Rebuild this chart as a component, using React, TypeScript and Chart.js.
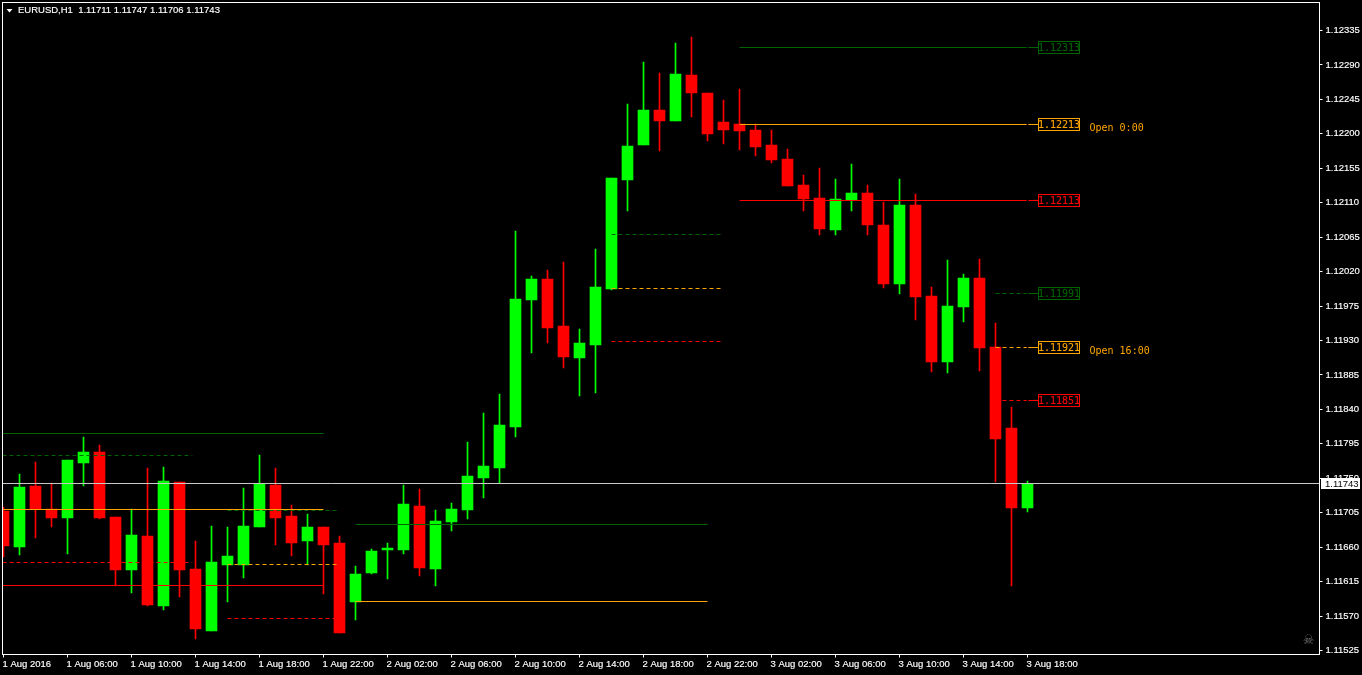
import React, { useEffect, useRef } from "react";
import Chart from "chart.js/auto";

const open = [1.11707,1.11660,1.11740,1.11710,1.11698,1.11770,1.11784,1.11699,1.11630,1.11675,1.11583,1.11745,1.11631,1.11550,1.11637,1.11637,1.11686,1.11741,1.11701,1.11668,1.11686,1.11665,1.11588,1.11626,1.11656,1.11656,1.11714,1.11631,1.11693,1.11709,1.11750,1.11763,1.11817,1.11983,1.12010,1.11949,1.11907,1.11924,1.11997,1.12140,1.12185,1.12231,1.12217,1.12277,1.12253,1.12215,1.12213,1.12205,1.12185,1.12167,1.12133,1.12116,1.12074,1.12114,1.12123,1.12081,1.12004,1.12107,1.11988,1.11902,1.11974,1.12012,1.11921,1.11816,1.11711];
const high = [1.11712,1.11756,1.11771,1.11744,1.11774,1.11804,1.11793,1.11699,1.11710,1.11763,1.11765,1.11745,1.11668,1.11688,1.11686,1.11737,1.11780,1.11763,1.11715,1.11703,1.11686,1.11675,1.11635,1.11658,1.11665,1.11741,1.11736,1.11709,1.11718,1.11797,1.11835,1.11860,1.12073,1.12014,1.12022,1.12033,1.11945,1.12050,1.12142,1.12239,1.12294,1.12279,1.12319,1.12327,1.12253,1.12244,1.12259,1.12213,1.12205,1.12180,1.12146,1.12155,1.12141,1.12161,1.12133,1.12111,1.12141,1.12121,1.12000,1.12035,1.12017,1.12036,1.11953,1.11843,1.11747];
const low = [1.11647,1.11650,1.11672,1.11686,1.11651,1.11740,1.11697,1.11609,1.11600,1.11583,1.11578,1.11595,1.11540,1.11550,1.11588,1.11620,1.11686,1.11663,1.11648,1.11637,1.11599,1.11548,1.11565,1.11625,1.11618,1.11651,1.11622,1.11609,1.11681,1.11697,1.11724,1.11744,1.11804,1.11914,1.11927,1.11894,1.11857,1.11861,1.11996,1.12099,1.12185,1.12178,1.12217,1.12222,1.12191,1.12187,1.12179,1.12171,1.12162,1.12132,1.12099,1.12068,1.12068,1.12099,1.12068,1.11999,1.11991,1.11957,1.11889,1.11888,1.11954,1.11890,1.11745,1.11609,1.11706];
const close = [1.11662,1.11739,1.11710,1.11698,1.11774,1.11784,1.11698,1.11630,1.11676,1.11584,1.11746,1.11630,1.11553,1.11641,1.11648,1.11688,1.11743,1.11698,1.11665,1.11686,1.11663,1.11548,1.11625,1.11655,1.11659,1.11716,1.11633,1.11694,1.11710,1.11753,1.11766,1.11820,1.11984,1.12010,1.11946,1.11908,1.11927,1.12000,1.12142,1.12184,1.12231,1.12217,1.12278,1.12253,1.12200,1.12205,1.12204,1.12183,1.12166,1.12132,1.12115,1.12076,1.12115,1.12123,1.12081,1.12004,1.12107,1.11987,1.11902,1.11975,1.12012,1.11920,1.11801,1.11711,1.11743];

const xTickIndex = [0,4,8,12,16,20,24,28,32,36,40,44,48,52,56,60,64];
const xTickLabels = ["1 Aug 2016","1 Aug 06:00","1 Aug 10:00","1 Aug 14:00","1 Aug 18:00","1 Aug 22:00","2 Aug 02:00","2 Aug 06:00","2 Aug 10:00","2 Aug 14:00","2 Aug 18:00","2 Aug 22:00","3 Aug 02:00","3 Aug 06:00","3 Aug 10:00","3 Aug 14:00","3 Aug 18:00"];
const yTicks = [1.12335,1.1229,1.12245,1.122,1.12155,1.1211,1.12065,1.1202,1.11975,1.1193,1.11885,1.1184,1.11795,1.1175,1.11705,1.1166,1.11615,1.1157,1.11525];

const levelPrice = [1.11809,1.11780,1.11709,1.11640,1.11610,1.11708,1.11637,1.11567,1.11690,1.11589,1.12069,1.11998,1.11929,1.12313,1.12313,1.12212,1.12212,1.12113,1.12113,1.11991,1.11991,1.11921,1.11921,1.11851,1.11851,1.11743];
const levelFrom = [-0.06,-0.06,-0.06,-0.06,-0.06,14,14,14,22,22,38,38,38,46,64.05,46,64.05,46,64.05,62,64.05,62,64.05,62,64.05,-0.06];
const levelTo = [20,11.8,20,11.8,20,21,21,21,44,44,44.9,44.9,44.9,63.95,64.67,63.95,64.67,63.95,64.67,63.95,64.67,63.95,64.67,63.95,64.67,82.25];
const levelKind = ["green","greenDash","orange","redDash","red","greenDash","orangeDash","redDash","green","orange","greenDash","orangeDash","redDash","green","green","orange","orange","red","red","greenDash","green","orangeDash","orange","redDash","red","current"];

const tagLabels = ["1.12313","1.12213","1.12113","1.11991","1.11921","1.11851"];
const tagPrice = [1.12313,1.12212,1.12113,1.11991,1.11921,1.11851];
const tagColorKind = ["green","orange","red","green","orange","red"];
const noteText = ["Open 0:00","Open 16:00"];
const notePrice = [1.12212,1.11921];
const headerText = "EURUSD,H1  1.11711 1.11747 1.11706 1.11743";
const lastPrice = 1.11743;

const COLORS: Record<string,string> = { green: "#006400", orange: "#FFA500", red: "#FF0000", current: "#C8C8C8" };
const UI_FONT = '9.5px "Liberation Sans"';
const MONO_FONT = '10px "DejaVu Sans Mono"';

const clearPadding = (s: any) => {
  s.paddingTop = 0;
  s.paddingBottom = 0;
  s.paddingLeft = 0;
  s.paddingRight = 0;
};

const snapPlugin = {
  id: "snap",
  afterDatasetsUpdate(chart: any) {
    chart.getSortedVisibleDatasetMetas().forEach((meta: any) => {
      meta.data.forEach((el: any) => {
        if (meta.type === "bar") {
          el.y = Math.round(el.y);
          el.base = Math.round(el.base);
        } else {
          el.y = Math.floor(el.y) + 0.5;
        }
      });
    });
  },
};

const overlayPlugin = {
  id: "overlay",
  afterDraw(chart: any) {
    const { ctx, chartArea: a, scales } = chart;
    const yOf = (v: number) => Math.floor(scales.y.getPixelForValue(v)) + 0.5;
    ctx.save();
    ctx.strokeStyle = "#FFFFFF";
    ctx.lineWidth = 1;
    ctx.strokeRect(a.left, a.top, a.right - a.left, a.bottom - a.top);

    ctx.fillStyle = "#FFFFFF";
    ctx.beginPath();
    ctx.moveTo(6.5, 9);
    ctx.lineTo(12.5, 9);
    ctx.lineTo(9.5, 12.5);
    ctx.closePath();
    ctx.fill();
    ctx.font = UI_FONT;
    ctx.textBaseline = "middle";
    ctx.textAlign = "left";
    ctx.lineWidth = 0.15;
    ctx.strokeStyle = "#FFFFFF";
    ctx.fillText(headerText, 18, 10.5);
    ctx.strokeText(headerText, 18, 10.5);

    ctx.font = MONO_FONT;
    tagPrice.forEach((p, i) => {
      const y = yOf(p);
      const c = COLORS[tagColorKind[i]];
      ctx.strokeStyle = c;
      ctx.lineWidth = 1;
      ctx.strokeRect(1038.5, y - 6, 41, 12);
      ctx.fillStyle = c;
      ctx.textAlign = "center";
      ctx.lineWidth = 0.1;
      ctx.fillText(tagLabels[i], 1059, y + 0.5);
      ctx.strokeText(tagLabels[i], 1059, y + 0.5);
    });
    noteText.forEach((t, i) => {
      ctx.fillStyle = COLORS.orange;
      ctx.textAlign = "left";
      ctx.fillText(t, 1089.5, yOf(notePrice[i]) + 3.5);
    });

    const ly = yOf(lastPrice);
    ctx.fillStyle = "#FFFFFF";
    ctx.fillRect(1321, ly - 5.5, 39, 11);
    ctx.fillStyle = "#000000";
    ctx.font = UI_FONT;
    ctx.textAlign = "left";
    ctx.fillText(lastPrice.toFixed(5), 1325, ly + 0.5);

    ctx.fillStyle = "#6E6E6E";
    ctx.font = '13px "DejaVu Sans"';
    ctx.textAlign = "center";
    ctx.fillText("\u2620", 1308.5, 640.5);
    ctx.restore();
  },
};

const backgroundPlugin = {
  id: "bg",
  beforeDraw(chart: any) {
    const { ctx, width, height } = chart;
    ctx.save();
    ctx.fillStyle = "#000000";
    ctx.fillRect(0, 0, width, height);
    ctx.restore();
  },
};

export default function App() {
  const ref = useRef<HTMLCanvasElement>(null);
  useEffect(() => {
    document.body.style.margin = "0";
    document.body.style.background = "#000";
    const isUp = (i: number) => close[i] >= open[i];
    const barColor = open.map((_, i) => (isUp(i) ? "#00FF00" : "#FF0000"));
    const levelDatasets = levelPrice.map((p, i) => {
      const kind = levelKind[i];
      const dashed = kind.endsWith("Dash");
      return {
        type: "line" as const,
        data: [{ x: levelFrom[i], y: p }, { x: levelTo[i], y: p }],
        borderColor: COLORS[kind.replace("Dash", "")],
        borderWidth: 1,
        borderDash: dashed ? [4, 3] : [],
        pointRadius: 0,
        tension: 0,
        fill: false,
        order: 1,
      };
    });
    const chart = new Chart(ref.current!, {
      type: "bar",
      data: {
        datasets: [
          {
            type: "bar",
            data: open.map((o, i) => ({ x: i, y: [o, close[i]] })),
            backgroundColor: barColor,
            borderWidth: 0,
            barThickness: 11,
            grouped: false,
            order: 2,
          },
          {
            type: "bar",
            data: open.map((_, i) => ({ x: i, y: [low[i], high[i]] })),
            backgroundColor: barColor,
            borderWidth: 0,
            barThickness: 1,
            grouped: false,
            order: 3,
          },
          ...levelDatasets,
        ] as any,
      },
      options: {
        responsive: false,
        animation: false,
        events: [],
        layout: { autoPadding: false, padding: { left: 2.5, top: 2.5, right: 0, bottom: 0 } },
        plugins: { legend: { display: false }, tooltip: { enabled: false } },
        scales: {
          x: {
            type: "linear",
            offset: false,
            min: -0.0625,
            max: 82.25,
            afterFit: (s: any) => { s.height = 20.5; clearPadding(s); },
            afterBuildTicks: (s: any) => { s.ticks = xTickIndex.map((v) => ({ value: v })); },
            grid: { offset: false, drawOnChartArea: false, color: "#FFFFFF", tickLength: 3 },
            border: { color: "#FFFFFF" },
            ticks: {
              autoSkip: false,
              maxRotation: 0,
              minRotation: 0,
              align: "start",
              padding: 1,
              labelOffset: -1,
              color: "#FFFFFF",
              textStrokeColor: "#FFFFFF",
              textStrokeWidth: 0.15,
              font: { family: "Liberation Sans", size: 9.5 },
              callback: (v: any) => xTickLabels[xTickIndex.indexOf(Number(v))] ?? "",
            },
          },
          y: {
            type: "linear",
            position: "right",
            min: 1.1151977,
            max: 1.1237158,
            afterFit: (s: any) => { s.width = 42.5; clearPadding(s); },
            afterBuildTicks: (s: any) => { s.ticks = yTicks.map((v) => ({ value: v })); },
            grid: { drawOnChartArea: false, color: "#FFFFFF", tickLength: 3 },
            border: { color: "#FFFFFF" },
            ticks: {
              autoSkip: false,
              padding: 3,
              color: "#FFFFFF",
              textStrokeColor: "#FFFFFF",
              textStrokeWidth: 0.15,
              font: { family: "Liberation Sans", size: 9.5 },
              callback: (v: any) => Number(v).toFixed(5),
            },
          },
        },
      } as any,
      plugins: [backgroundPlugin, snapPlugin, overlayPlugin],
    });
    return () => chart.destroy();
  }, []);
  return (
    <div style={{ position: "fixed", left: 0, top: 0, width: 1362, height: 675, background: "#000" }}>
      <canvas ref={ref} width={1362} height={675} style={{ display: "block" }} />
    </div>
  );
}
